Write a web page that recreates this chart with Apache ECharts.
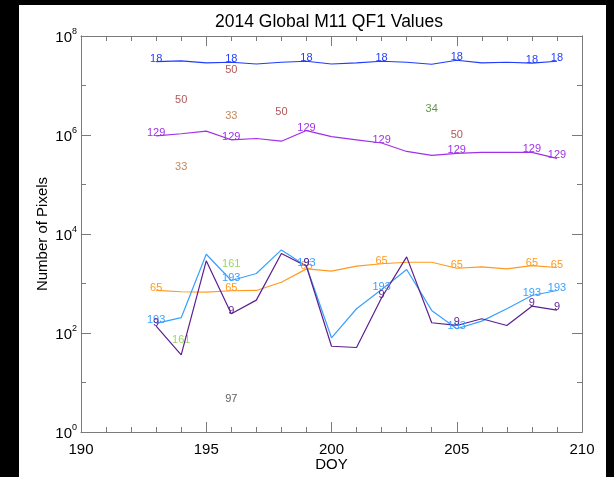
<!DOCTYPE html>
<html>
<head>
<meta charset="utf-8">
<script src="https://cdn.jsdelivr.net/npm/echarts@6/dist/echarts.min.js"></script>
<style>
  html, body { margin: 0; padding: 0; background: #000; }
  #main { width: 614px; height: 477px; }
</style>
</head>
<body>
<div id="main"></div>
<script>
// 数据：横轴为 DOY，纵轴为像素数（对数）
var doy = [193, 194, 195, 196, 197, 198, 199, 200, 201, 202, 203, 204, 205, 206, 207, 208, 209];

var qf18 = [3.03e7, 3.13e7, 2.86e7, 2.95e7, 2.72e7, 2.95e7, 3.09e7, 2.72e7, 2.86e7, 3.09e7, 2.95e7, 2.69e7, 3.24e7, 2.86e7, 2.95e7, 2.82e7, 3.09e7];
var qf129 = [9.6e5, 1.06e6, 1.2e6, 8.0e5, 8.5e5, 7.5e5, 1.23e6, 9.3e5, 8.0e5, 6.9e5, 4.65e5, 3.86e5, 4.24e5, 4.44e5, 4.44e5, 4.44e5, 3.36e5];
var qf65 = [723, 681, 668, 713, 723, 1062, 1977, 1772, 2237, 2504, 2687, 2687, 2033, 2171, 1977, 2306, 2103];
var qf193 = [156, 204, 3900, 1148, 1592, 4774, 2233, 80, 309, 757, 1913, 286, 122, 174, 309, 573, 723];
var qf9 = [138, 36, 2870, 245, 461, 4030, 2233, 54, 51, 515, 3450, 161, 142, 194, 142, 348, 290];

// 只有少数几天出现的值
var doy50 = [194, 196, 198, 205];
var qf50 = [4.46e6, 1.77e7, 2.59e6, 8.8e5];
var doy33 = [194, 196];
var qf33 = [1.99e5, 2.06e6];
var doy34 = [204];
var qf34 = [2.98e6];
var doy161 = [194, 196];
var qf161 = [62, 2200];
var doy97 = [196];
var qf97 = [4.1];

var labelIdx = [0, 3, 6, 9, 12, 15, 16]; // 折线上标注的位置

var axisColor = '#7a7a7a';
var font = 'Liberation Sans, Arial, Helvetica, sans-serif';

function pairs(xs, ys) {
  return xs.map(function (x, i) { return [x, ys[i]]; });
}

function lineSeries(name, vals, color) {
  return {
    name: name,
    type: 'line',
    data: pairs(doy, vals),
    symbol: 'circle',
    symbolSize: 1,
    showAllSymbol: true,
    itemStyle: { color: 'transparent' },
    lineStyle: { color: color, width: 1.2 },
    label: {
      show: true,
      position: 'inside',
      offset: [0, -3],
      color: color,
      fontSize: 11,
      fontFamily: font,
      formatter: function (p) {
        return labelIdx.indexOf(p.dataIndex) >= 0 ? name : '';
      }
    },
    animation: false
  };
}

function pointSeries(name, xs, vals, color) {
  return {
    name: name,
    type: 'scatter',
    data: pairs(xs, vals),
    symbolSize: 1,
    itemStyle: { color: 'transparent' },
    label: {
      show: true,
      position: 'inside',
      offset: [0, -3],
      color: color,
      fontSize: 11,
      fontFamily: font,
      formatter: name
    },
    animation: false
  };
}

function xAx(pos, showLabel) {
  return {
    type: 'value',
    position: pos,
    min: 190,
    max: 210,
    interval: 5,
    name: showLabel ? 'DOY' : '',
    nameLocation: 'middle',
    nameGap: 25,
    nameMoveOverlap: false,
    nameTextStyle: { color: '#000', fontSize: 15, fontFamily: font },
    axisLine: { show: true, lineStyle: { color: axisColor, width: 1 } },
    axisTick: { show: true, inside: true, length: 10, lineStyle: { color: axisColor } },
    minorTick: { show: true, splitNumber: 5, length: 5, lineStyle: { color: axisColor } },
    axisLabel: { show: showLabel, color: '#000', fontSize: 15, fontFamily: font, margin: 10 },
    splitLine: { show: false },
    minorSplitLine: { show: false }
  };
}

function yAx(pos, interval, len, showLabel) {
  return {
    type: 'log',
    logBase: 10,
    position: pos,
    min: 1,
    max: 1e8,
    interval: interval,
    name: showLabel ? 'Number of Pixels' : '',
    nameLocation: 'middle',
    nameGap: 31,
    nameMoveOverlap: false,
    nameTextStyle: { color: '#000', fontSize: 15, fontFamily: font },
    axisLine: { show: true, lineStyle: { color: axisColor, width: 1 } },
    axisTick: { show: true, inside: true, length: len, lineStyle: { color: axisColor } },
    axisLabel: {
      show: showLabel,
      margin: 4,
      formatter: function (v) {
        return '{b|10}{sup|' + Math.round(Math.log10(v)) + '}';
      },
      rich: {
        b: { fontSize: 15, color: '#000', fontFamily: font, lineHeight: 18, verticalAlign: 'bottom' },
        sup: { fontSize: 9, color: '#000', fontFamily: font, lineHeight: 9, verticalAlign: 'top' }
      }
    },
    splitLine: { show: false }
  };
}

var chart = echarts.init(document.getElementById('main'));

var option = {
  backgroundColor: '#000',
  animation: false,
  graphic: [{
    type: 'rect',
    z: -100,
    shape: { x: 19, y: 5, width: 587, height: 472 },
    style: { fill: '#fff' }
  }],
  title: {
    text: '2014 Global M11 QF1 Values',
    left: 324,
    top: 8,
    textAlign: 'center',
    textStyle: { color: '#000', fontSize: 17.5, fontWeight: 'normal', fontFamily: font }
  },
  grid: { left: 81, top: 36, right: 32, bottom: 44 },
  xAxis: [xAx('bottom', true), xAx('top', false)],
  yAxis: [yAx('left', 2, 10, true), yAx('left', 1, 5, false), yAx('right', 2, 10, false), yAx('right', 1, 5, false)],
  series: [
    lineSeries('18', qf18, '#1f3cff'),
    lineSeries('129', qf129, '#a030e8'),
    lineSeries('65', qf65, '#ff9a1e'),
    lineSeries('193', qf193, '#3aa0ff'),
    lineSeries('9', qf9, '#5c1f8e'),
    pointSeries('50', doy50, qf50, '#9a2a2a'),
    pointSeries('33', doy33, qf33, '#b06a30'),
    pointSeries('34', doy34, qf34, '#3a7a1a'),
    pointSeries('161', doy161, qf161, '#80d030'),
    pointSeries('97', doy97, qf97, '#333333')
  ]
};

chart.setOption(option);
</script>
</body>
</html>
